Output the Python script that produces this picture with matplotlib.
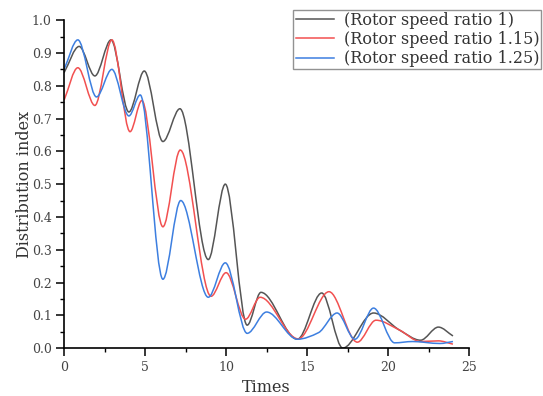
import numpy as np
import matplotlib
matplotlib.use("Agg")
import matplotlib.pyplot as plt
from matplotlib.path import Path
from matplotlib.patches import PathPatch
from matplotlib.lines import Line2D
from matplotlib.ticker import MultipleLocator, FormatStrFormatter

# knots (peaks, troughs, shoulders)
t_r1 = [0, 0.93, 1.9, 2.9, 4.0, 4.95, 6.1, 7.15, 8.9, 9.95, 11.3, 12.15,
        14.4, 15.9, 17.2, 19.1, 20.7, 22.0, 23.1, 24.0]
y_r1 = [0.84, 0.92, 0.83, 0.94, 0.72, 0.845, 0.63, 0.73, 0.27, 0.50, 0.07, 0.17,
        0.027, 0.168, 0.0, 0.107, 0.055, 0.024, 0.064, 0.037]

t_r115 = [0, 0.85, 1.9, 2.95, 4.07, 4.8, 6.1, 7.17, 9.07, 10.0, 11.2, 12.1,
          14.45, 16.35, 18.1, 19.25, 20.7, 22.0, 23.1, 24.0]
y_r115 = [0.756, 0.855, 0.74, 0.94, 0.66, 0.755, 0.37, 0.604, 0.158, 0.23, 0.088, 0.155,
          0.028, 0.172, 0.018, 0.085, 0.055, 0.02, 0.022, 0.012]

t_r125 = [0, 0.85, 2.0, 2.95, 4.0, 4.7, 6.1, 7.2, 8.9, 9.95, 11.3, 12.5,
          14.4, 15.7, 16.85, 17.95, 19.1, 20.4, 21.5, 23.2, 24.0]
y_r125 = [0.85, 0.94, 0.766, 0.85, 0.708, 0.772, 0.21, 0.45, 0.155, 0.26, 0.045, 0.11,
          0.027, 0.047, 0.107, 0.027, 0.122, 0.016, 0.02, 0.014, 0.02]

labels = ["(Rotor speed ratio 1)", "(Rotor speed ratio 1.15)", "(Rotor speed ratio 1.25)"]
colors = ["#555555", "#f25050", "#3d7fe0"]


def smooth_path(x, y):
    # monotone cubic (Fritsch-Carlson) tangents -> bezier segments through the knots
    x = np.asarray(x, float)
    y = np.asarray(y, float)
    h = np.diff(x)
    d = np.diff(y) / h
    m = np.zeros_like(y)
    m[0] = d[0]
    m[-1] = d[-1]
    for k in range(1, len(y) - 1):
        if d[k - 1] * d[k] <= 0:
            m[k] = 0.0
        else:
            w1 = 2 * h[k] + h[k - 1]
            w2 = h[k] + 2 * h[k - 1]
            m[k] = (w1 + w2) / (w1 / d[k - 1] + w2 / d[k])
    verts = [(x[0], y[0])]
    codes = [Path.MOVETO]
    for k in range(len(h)):
        verts.append((x[k] + h[k] / 3, y[k] + m[k] * h[k] / 3))
        verts.append((x[k + 1] - h[k] / 3, y[k + 1] - m[k + 1] * h[k] / 3))
        verts.append((x[k + 1], y[k + 1]))
        codes += [Path.CURVE4] * 3
    return Path(verts, codes)


plt.rcParams['font.family'] = ['DejaVu Serif']

fig = plt.figure(figsize=(5.43, 3.96), dpi=100)
ax = fig.add_axes([0.118, 0.121, 0.746, 0.828])

series = [(t_r1, y_r1), (t_r115, y_r115), (t_r125, y_r125)]
handles = []
for (t, y), c, lab in zip(series, colors, labels):
    ax.add_patch(PathPatch(smooth_path(t, y), facecolor="none", edgecolor=c, lw=1.1))
    handles.append(Line2D([], [], color=c, lw=1.1))

ax.set_xlim(0, 25)
ax.set_ylim(0, 1.0)
ax.xaxis.set_major_locator(MultipleLocator(5))
ax.xaxis.set_minor_locator(MultipleLocator(2.5))
ax.yaxis.set_major_locator(MultipleLocator(0.1))
ax.yaxis.set_minor_locator(MultipleLocator(0.05))
ax.yaxis.set_major_formatter(FormatStrFormatter('%.1f'))

for s in ["top", "right"]:
    ax.spines[s].set_visible(False)
for s in ["left", "bottom"]:
    ax.spines[s].set_linewidth(1.2)
ax.tick_params(which="major", direction="out", length=5.5, width=1.1, labelsize=9,
               labelcolor="#444444")
ax.tick_params(which="minor", direction="out", length=3, width=1.0)

ax.set_xlabel("Times", fontsize=11.5, color="#333333", labelpad=4)
ax.set_ylabel("Distribution index", fontsize=11.5, color="#333333", labelpad=-1)

leg = fig.legend(handles, labels, loc="upper right", bbox_to_anchor=(0.997, 0.976),
                 fontsize=11.5, frameon=True, fancybox=False, edgecolor="#777777",
                 handlelength=2.4, handletextpad=0.6, labelspacing=0.14,
                 borderpad=0.14, borderaxespad=0)
leg.get_frame().set_linewidth(1.0)
for txt in leg.get_texts():
    txt.set_color("#333333")

fig.savefig("out.png", dpi=100)
